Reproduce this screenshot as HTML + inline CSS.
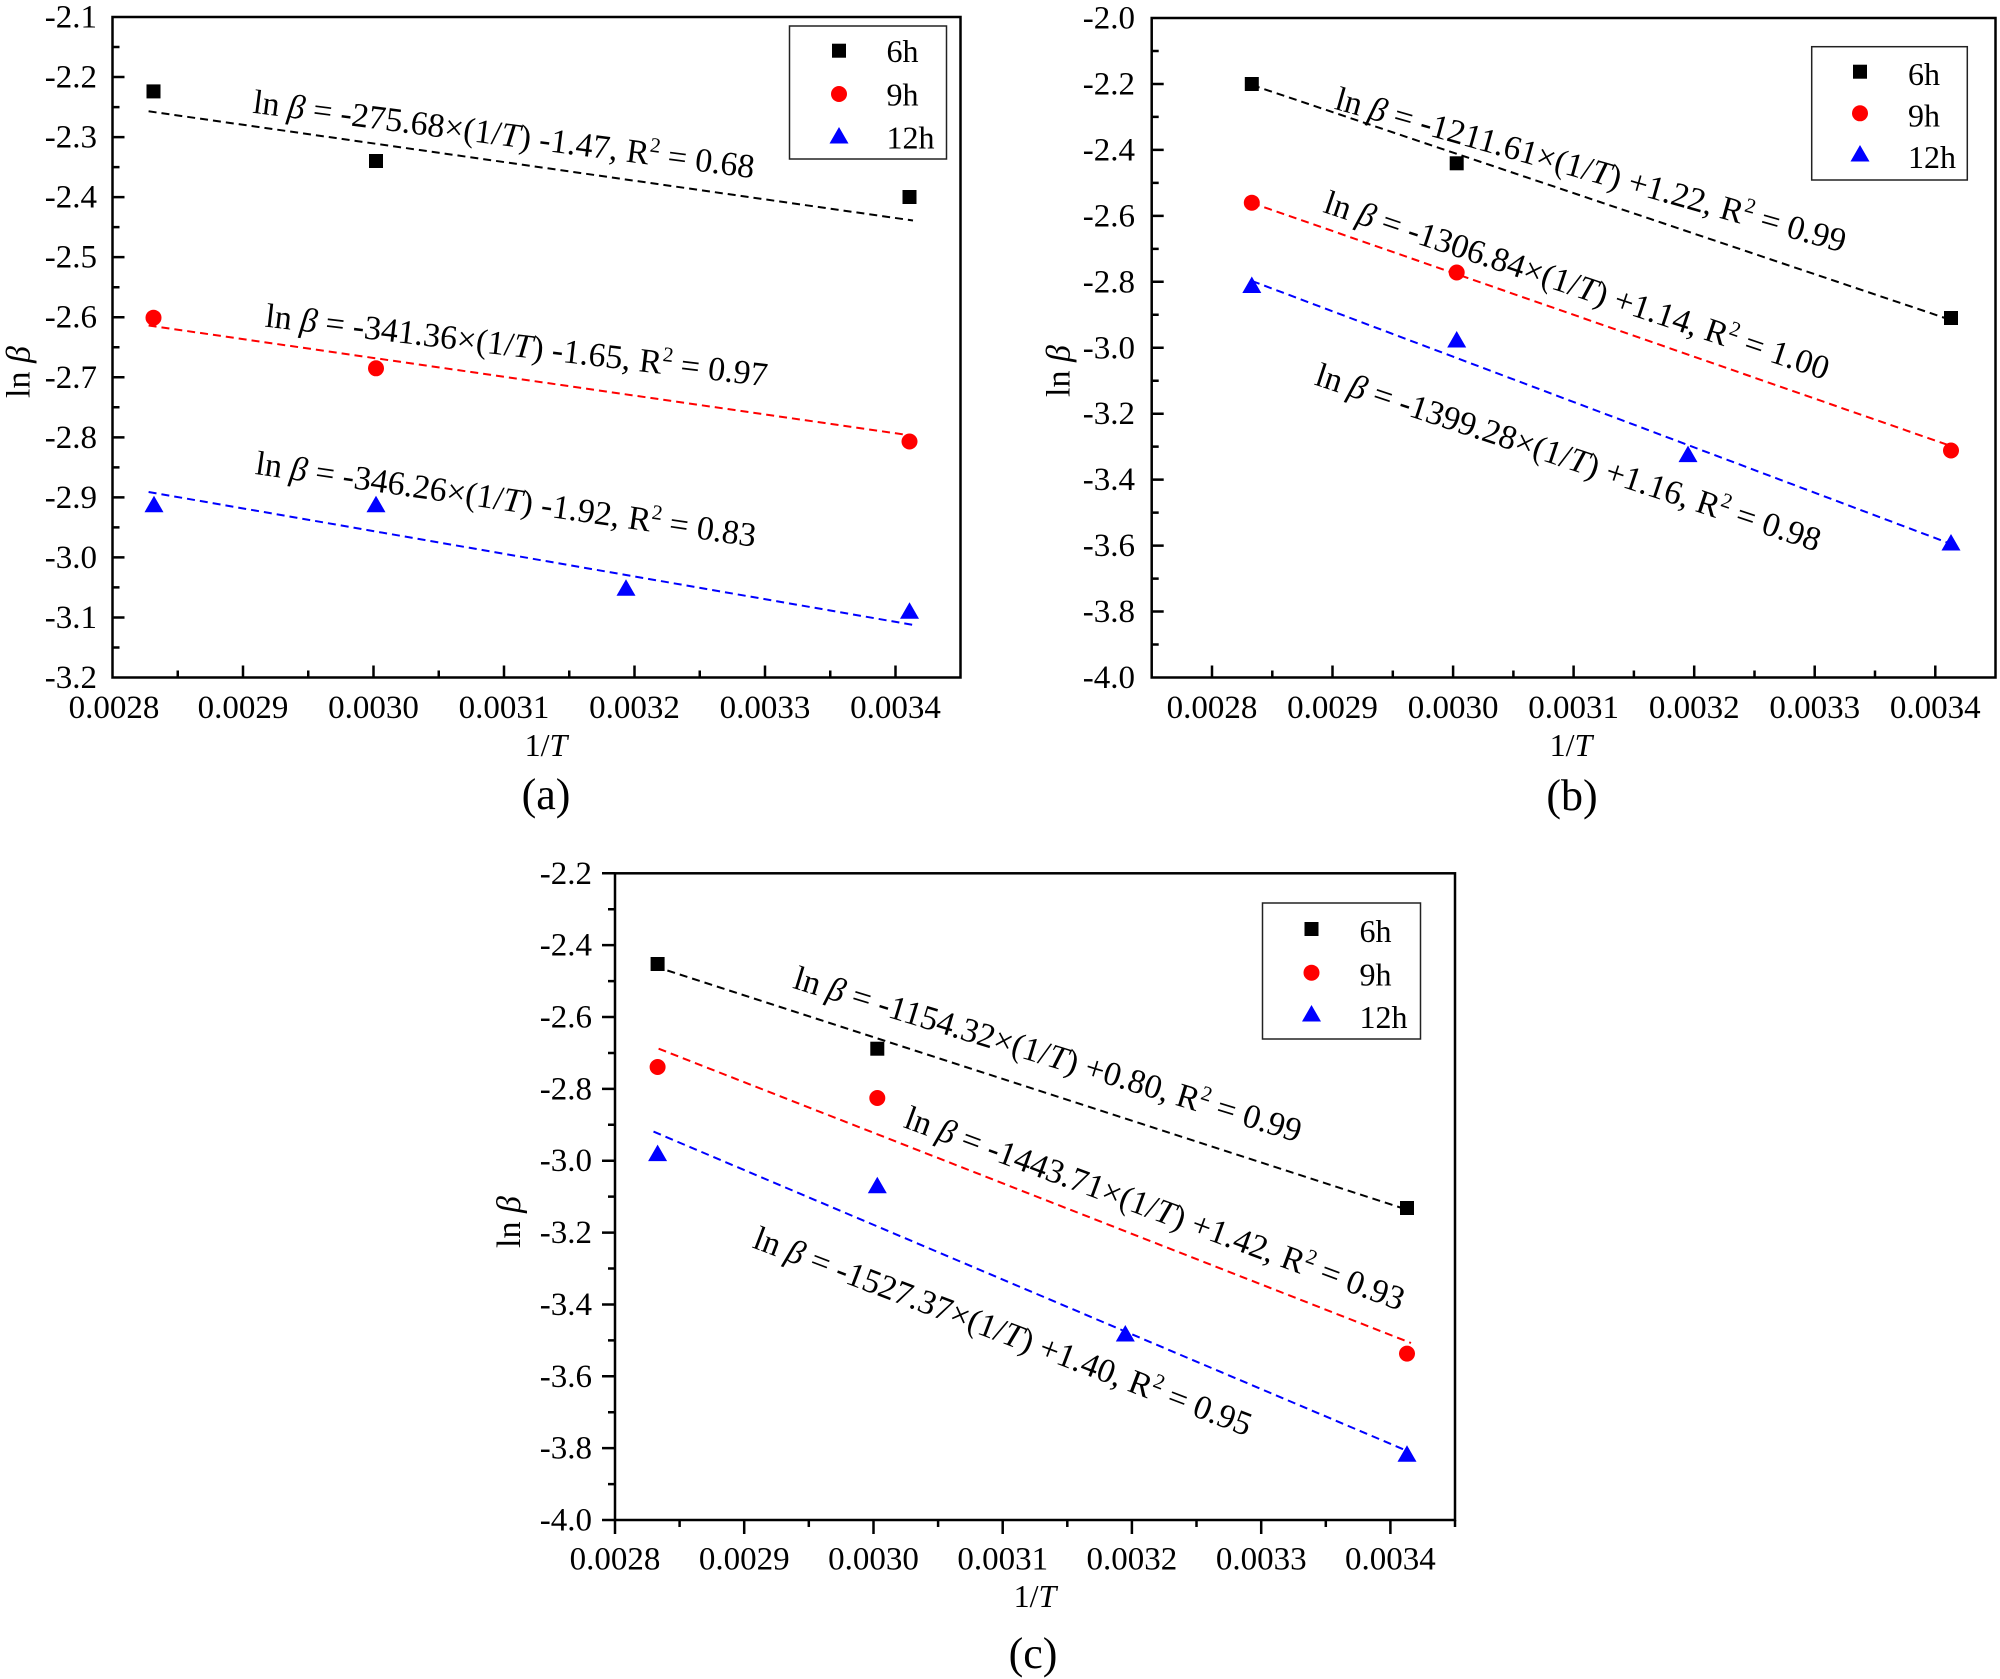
<!DOCTYPE html>
<html><head><meta charset="utf-8"><style>
html,body{margin:0;padding:0;background:#fff;}
svg{display:block;}
text{font-family:"Liberation Serif","Times New Roman",serif;fill:#000;}
.tk{font-size:33px;}
.eq{font-size:34px;}
.lg{font-size:32px;}
</style></head><body>
<svg width="2000" height="1679" viewBox="0 0 2000 1679" xmlns="http://www.w3.org/2000/svg" font-family="'Liberation Serif', 'Times New Roman', serif">
<rect width="2000" height="1679" fill="#fff"/>

<!-- ================= PANEL (a) ================= -->
<g>
<rect x="112.5" y="17" width="848" height="660.5" fill="none" stroke="#000" stroke-width="2.5"/>
<path stroke="#000" stroke-width="2.5" fill="none" d="
M112.5 77.05H124.5 M112.5 137.09H124.5 M112.5 197.14H124.5 M112.5 257.18H124.5 M112.5 317.23H124.5 M112.5 377.27H124.5 M112.5 437.32H124.5 M112.5 497.36H124.5 M112.5 557.41H124.5 M112.5 617.45H124.5
M112.5 47.02H119.5 M112.5 107.07H119.5 M112.5 167.11H119.5 M112.5 227.16H119.5 M112.5 287.2H119.5 M112.5 347.25H119.5 M112.5 407.29H119.5 M112.5 467.34H119.5 M112.5 527.38H119.5 M112.5 587.43H119.5 M112.5 647.47H119.5
M243 677.5V665.5 M373.5 677.5V665.5 M504 677.5V665.5 M634.5 677.5V665.5 M765 677.5V665.5 M895.5 677.5V665.5
M177.75 677.5V670.5 M308.25 677.5V670.5 M438.75 677.5V670.5 M569.25 677.5V670.5 M699.75 677.5V670.5 M830.25 677.5V670.5"/>
<g class="tk" text-anchor="end">
<text x="97" y="27.5">-2.1</text><text x="97" y="87.6">-2.2</text><text x="97" y="147.6">-2.3</text>
<text x="97" y="207.6">-2.4</text><text x="97" y="267.7">-2.5</text><text x="97" y="327.7">-2.6</text>
<text x="97" y="387.8">-2.7</text><text x="97" y="447.8">-2.8</text><text x="97" y="507.9">-2.9</text>
<text x="97" y="567.9">-3.0</text><text x="97" y="628">-3.1</text><text x="97" y="688">-3.2</text>
</g>
<g class="tk" text-anchor="middle">
<text x="114" y="718">0.0028</text><text x="243" y="718">0.0029</text><text x="373.5" y="718">0.0030</text>
<text x="504" y="718">0.0031</text><text x="634.5" y="718">0.0032</text><text x="765" y="718">0.0033</text>
<text x="895.5" y="718">0.0034</text>
</g>
<text x="546" y="756" font-size="32" text-anchor="middle">1/<tspan font-style="italic">T</tspan></text>
<text x="546" y="809" font-size="44" text-anchor="middle">(a)</text>
<text transform="translate(29.7,372) rotate(-90)" font-size="34" text-anchor="middle">ln <tspan font-style="italic">β</tspan></text>

<g fill="none" stroke-width="2" stroke-dasharray="8 5">
<line x1="148.6" y1="111.3" x2="913" y2="220.5" stroke="#000"/>
<line x1="148.6" y1="325.5" x2="909" y2="435.2" stroke="#f00"/>
<line x1="148.6" y1="492" x2="913" y2="624.9" stroke="#00f"/>
</g>
<g fill="#000">
<rect x="146.5" y="84.4" width="14" height="14"/>
<rect x="369" y="154" width="14" height="14"/>
<rect x="902.5" y="190" width="14" height="14"/>
</g>
<g fill="#f00">
<circle cx="153.5" cy="317.7" r="8"/>
<circle cx="376" cy="368.3" r="8"/>
<circle cx="909.5" cy="441.5" r="8"/>
</g>
<g fill="#00f">
<polygon points="154,495.7 144.5,512.2 163.5,512.2"/>
<polygon points="376,495.7 366.5,512.2 385.5,512.2"/>
<polygon points="626,579.3 616.5,595.8 635.5,595.8"/>
<polygon points="909.5,602.3 900,618.8 919,618.8"/>
</g>

<g class="eq" text-anchor="middle">
<text transform="translate(504,134) rotate(7.46)" y="11.5">ln <tspan font-style="italic">β</tspan> = -275.68×(1/<tspan font-style="italic">T</tspan>) -1.47, R<tspan dy="-13" font-size="21">2</tspan><tspan dy="13"> = 0.68</tspan></text>
<text transform="translate(516.6,345) rotate(6.8)" y="11.5">ln <tspan font-style="italic">β</tspan> = -341.36×(1/<tspan font-style="italic">T</tspan>) -1.65, R<tspan dy="-13" font-size="21">2</tspan><tspan dy="13"> = 0.97</tspan></text>
<text transform="translate(506,499) rotate(8.3)" y="11.5">ln <tspan font-style="italic">β</tspan> = -346.26×(1/<tspan font-style="italic">T</tspan>) -1.92, R<tspan dy="-13" font-size="21">2</tspan><tspan dy="13"> = 0.83</tspan></text>
</g>

<rect x="789.5" y="26" width="157" height="133" fill="#fff" stroke="#222" stroke-width="1.5"/>
<rect x="832" y="43.7" width="14" height="14" fill="#000"/>
<circle cx="839" cy="94" r="8" fill="#f00"/>
<polygon points="839,127 829.5,143.5 848.5,143.5" fill="#00f"/>
<g class="lg">
<text x="886.5" y="62">6h</text><text x="886.5" y="105.5">9h</text><text x="886.5" y="148.5">12h</text>
</g>
</g>

<!-- ================= PANEL (b) ================= -->
<g>
<rect x="1151.7" y="18" width="843.8" height="659.5" fill="none" stroke="#000" stroke-width="2.5"/>
<path stroke="#000" stroke-width="2.5" fill="none" d="
M1151.7 83.95H1163.7 M1151.7 149.9H1163.7 M1151.7 215.85H1163.7 M1151.7 281.8H1163.7 M1151.7 347.75H1163.7 M1151.7 413.7H1163.7 M1151.7 479.65H1163.7 M1151.7 545.6H1163.7 M1151.7 611.55H1163.7
M1151.7 50.98H1158.7 M1151.7 116.93H1158.7 M1151.7 182.88H1158.7 M1151.7 248.83H1158.7 M1151.7 314.78H1158.7 M1151.7 380.73H1158.7 M1151.7 446.68H1158.7 M1151.7 512.63H1158.7 M1151.7 578.58H1158.7 M1151.7 644.53H1158.7
M1212 677.5V665.5 M1332.5 677.5V665.5 M1453.1 677.5V665.5 M1573.6 677.5V665.5 M1694.2 677.5V665.5 M1814.7 677.5V665.5 M1935.3 677.5V665.5
M1272.3 677.5V670.5 M1392.8 677.5V670.5 M1513.4 677.5V670.5 M1633.9 677.5V670.5 M1754.5 677.5V670.5 M1875 677.5V670.5"/>
<g class="tk" text-anchor="end">
<text x="1135" y="28.5">-2.0</text><text x="1135" y="94.5">-2.2</text><text x="1135" y="160.4">-2.4</text>
<text x="1135" y="226.4">-2.6</text><text x="1135" y="292.3">-2.8</text><text x="1135" y="358.3">-3.0</text>
<text x="1135" y="424.2">-3.2</text><text x="1135" y="490.2">-3.4</text><text x="1135" y="556.1">-3.6</text>
<text x="1135" y="622.1">-3.8</text><text x="1135" y="688">-4.0</text>
</g>
<g class="tk" text-anchor="middle">
<text x="1212" y="718">0.0028</text><text x="1332.5" y="718">0.0029</text><text x="1453.1" y="718">0.0030</text>
<text x="1573.6" y="718">0.0031</text><text x="1694.2" y="718">0.0032</text><text x="1814.7" y="718">0.0033</text>
<text x="1935.3" y="718">0.0034</text>
</g>
<text x="1571" y="756" font-size="32" text-anchor="middle">1/<tspan font-style="italic">T</tspan></text>
<text x="1572" y="810" font-size="44" text-anchor="middle">(b)</text>
<text transform="translate(1069.5,371) rotate(-90)" font-size="34" text-anchor="middle">ln <tspan font-style="italic">β</tspan></text>

<g fill="none" stroke-width="2" stroke-dasharray="8 5">
<line x1="1252" y1="85" x2="1951" y2="320" stroke="#000"/>
<line x1="1252" y1="203" x2="1951" y2="446" stroke="#f00"/>
<line x1="1252" y1="281" x2="1951" y2="544" stroke="#00f"/>
</g>
<g fill="#000">
<rect x="1244.8" y="77" width="14" height="14"/>
<rect x="1449.7" y="156.3" width="14" height="14"/>
<rect x="1944" y="311" width="14" height="14"/>
</g>
<g fill="#f00">
<circle cx="1251.8" cy="202.7" r="8"/>
<circle cx="1456.7" cy="272.5" r="8"/>
<circle cx="1951" cy="450.5" r="8"/>
</g>
<g fill="#00f">
<polygon points="1251.8,276.5 1242.3,293 1261.3,293"/>
<polygon points="1456.7,331 1447.2,347.5 1466.2,347.5"/>
<polygon points="1688,445.6 1678.5,462.1 1697.5,462.1"/>
<polygon points="1951,534 1941.5,550.5 1960.5,550.5"/>
</g>

<g class="eq" text-anchor="middle">
<text transform="translate(1591,169.5) rotate(15.8)" y="11.5">ln <tspan font-style="italic">β</tspan> = -1211.61×(1/<tspan font-style="italic">T</tspan>) +1.22, R<tspan dy="-13" font-size="21">2</tspan><tspan dy="13"> = 0.99</tspan></text>
<text transform="translate(1577,285) rotate(18.5)" y="11.5">ln <tspan font-style="italic">β</tspan> = -1306.84×(1/<tspan font-style="italic">T</tspan>) +1.14, R<tspan dy="-13" font-size="21">2</tspan><tspan dy="13"> = 1.00</tspan></text>
<text transform="translate(1568.5,457) rotate(18.4)" y="11.5">ln <tspan font-style="italic">β</tspan> = -1399.28×(1/<tspan font-style="italic">T</tspan>) +1.16, R<tspan dy="-13" font-size="21">2</tspan><tspan dy="13"> = 0.98</tspan></text>
</g>

<rect x="1811.7" y="46.7" width="155.6" height="133.3" fill="#fff" stroke="#222" stroke-width="1.5"/>
<rect x="1853" y="64.7" width="14" height="14" fill="#000"/>
<circle cx="1860" cy="113.3" r="8" fill="#f00"/>
<polygon points="1860,145 1850.5,161.5 1869.5,161.5" fill="#00f"/>
<g class="lg">
<text x="1908" y="85">6h</text><text x="1908" y="126.5">9h</text><text x="1908" y="168">12h</text>
</g>
</g>

<!-- ================= PANEL (c) ================= -->
<g>
<rect x="615" y="873.3" width="840" height="646.7" fill="none" stroke="#000" stroke-width="2.5"/>
<path stroke="#000" stroke-width="2.5" fill="none" d="
M615 873.3H602 M615 945.16H602 M615 1017.01H602 M615 1088.87H602 M615 1160.72H602 M615 1232.58H602 M615 1304.44H602 M615 1376.29H602 M615 1448.15H602 M615 1520H602
M615 909.23H608 M615 981.09H608 M615 1052.94H608 M615 1124.8H608 M615 1196.65H608 M615 1268.51H608 M615 1340.37H608 M615 1412.22H608 M615 1484.08H608
M615 1520V1534 M744.2 1520V1534 M873.5 1520V1534 M1002.7 1520V1534 M1131.9 1520V1534 M1261.2 1520V1534 M1390.4 1520V1534
M679.6 1520V1527 M808.8 1520V1527 M938.1 1520V1527 M1067.3 1520V1527 M1196.5 1520V1527 M1325.8 1520V1527 M1455 1520V1527"/>
<g class="tk" text-anchor="end">
<text x="592" y="883.8">-2.2</text><text x="592" y="955.7">-2.4</text><text x="592" y="1027.5">-2.6</text>
<text x="592" y="1099.4">-2.8</text><text x="592" y="1171.2">-3.0</text><text x="592" y="1243.1">-3.2</text>
<text x="592" y="1314.9">-3.4</text><text x="592" y="1386.8">-3.6</text><text x="592" y="1458.7">-3.8</text>
<text x="592" y="1530.5">-4.0</text>
</g>
<g class="tk" text-anchor="middle">
<text x="615" y="1569.5">0.0028</text><text x="744.2" y="1569.5">0.0029</text><text x="873.5" y="1569.5">0.0030</text>
<text x="1002.7" y="1569.5">0.0031</text><text x="1131.9" y="1569.5">0.0032</text><text x="1261.2" y="1569.5">0.0033</text>
<text x="1390.4" y="1569.5">0.0034</text>
</g>
<text x="1035" y="1607" font-size="32" text-anchor="middle">1/<tspan font-style="italic">T</tspan></text>
<text x="1033" y="1668" font-size="44" text-anchor="middle">(c)</text>
<text transform="translate(520,1222) rotate(-90)" font-size="34" text-anchor="middle">ln <tspan font-style="italic">β</tspan></text>

<g fill="none" stroke-width="2" stroke-dasharray="8 5">
<line x1="655" y1="966.5" x2="1405" y2="1209" stroke="#000"/>
<line x1="658.6" y1="1048.7" x2="1411" y2="1343" stroke="#f00"/>
<line x1="653.5" y1="1131.6" x2="1405" y2="1450" stroke="#00f"/>
</g>
<g fill="#000">
<rect x="650.6" y="957" width="14" height="14"/>
<rect x="870.3" y="1041.7" width="14" height="14"/>
<rect x="1400" y="1201" width="14" height="14"/>
</g>
<g fill="#f00">
<circle cx="657.6" cy="1067" r="8"/>
<circle cx="877.3" cy="1098" r="8"/>
<circle cx="1407" cy="1353.6" r="8"/>
</g>
<g fill="#00f">
<polygon points="657.6,1144.6 648.1,1161.1 667.1,1161.1"/>
<polygon points="877.3,1176.7 867.8,1193.2 886.8,1193.2"/>
<polygon points="1125.3,1325 1115.8,1341.5 1134.8,1341.5"/>
<polygon points="1407,1445.3 1397.5,1461.8 1416.5,1461.8"/>
</g>

<g class="eq" text-anchor="middle">
<text transform="translate(1048,1054) rotate(17)" y="11.5">ln <tspan font-style="italic">β</tspan> = -1154.32×(1/<tspan font-style="italic">T</tspan>) +0.80, R<tspan dy="-13" font-size="21">2</tspan><tspan dy="13"> = 0.99</tspan></text>
<text transform="translate(1155,1208) rotate(20.3)" y="11.5">ln <tspan font-style="italic">β</tspan> = -1443.71×(1/<tspan font-style="italic">T</tspan>) +1.42, R<tspan dy="-13" font-size="21">2</tspan><tspan dy="13"> = 0.93</tspan></text>
<text transform="translate(1003,1331) rotate(20.9)" y="11.5">ln <tspan font-style="italic">β</tspan> = -1527.37×(1/<tspan font-style="italic">T</tspan>) +1.40, R<tspan dy="-13" font-size="21">2</tspan><tspan dy="13"> = 0.95</tspan></text>
</g>

<rect x="1262.5" y="903" width="158" height="136" fill="#fff" stroke="#222" stroke-width="1.5"/>
<rect x="1304.5" y="922" width="14" height="14" fill="#000"/>
<circle cx="1311.5" cy="972.7" r="8" fill="#f00"/>
<polygon points="1311.5,1005 1302,1021.5 1321,1021.5" fill="#00f"/>
<g class="lg">
<text x="1359.5" y="942">6h</text><text x="1359.5" y="985.7">9h</text><text x="1359.5" y="1028">12h</text>
</g>
</g>
</svg>
</body></html>
